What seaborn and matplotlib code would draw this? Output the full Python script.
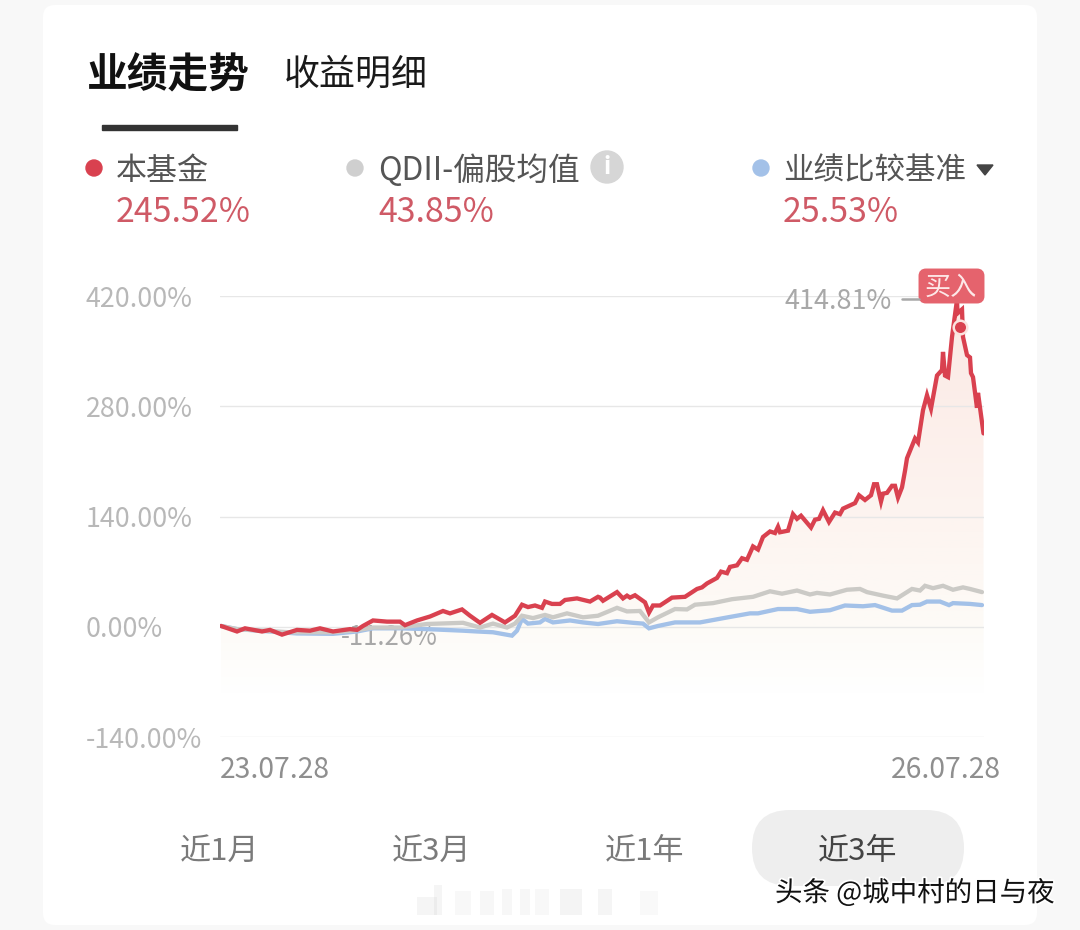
from __future__ import annotations

import matplotlib.pyplot as plt
import numpy as np
import pandas as pd
import seaborn as sns
from matplotlib.colors import LinearSegmentedColormap
from matplotlib.patches import Circle, FancyBboxPatch, Polygon, Rectangle
from matplotlib.patheffects import withStroke
from matplotlib.transforms import ScaledTranslation

# x is a trading-session counter over the three years shown
FUND_DAY = [1, 17, 25, 42, 50, 62, 77, 90, 100, 113, 130, 137, 143, 153, 167, 180, 185, 197, 210, 223, 230, 242,
            250, 260, 272, 285, 295, 302, 308, 315, 322, 325, 332, 340, 345, 357, 370, 378, 380, 383, 397, 403, 407,
            410, 415, 425, 429, 433, 440, 452, 465, 477, 482, 487, 497, 501, 507, 510, 517, 522, 527, 533, 538, 543,
            550, 555, 558, 560, 568, 573, 577, 581, 591, 595, 599, 603, 609, 615, 620, 623, 635, 639, 645, 651, 654,
            657, 661, 663, 667, 672, 675, 678, 682, 685, 687, 695, 698, 703, 707, 711, 717, 722, 723, 725, 728, 732,
            737, 737.5, 742, 743, 747, 750, 751, 753, 757, 758, 763.5]
FUND = [1, -6, -2, -6, -4, -10, -4, -5, -2, -6, -3, -4, 1, 8, 6.5, 6.5, 2, 8, 13, 20, 17, 22,
        14, 5, 15, 5.5, 14, 28, 25, 27, 24, 32, 29, 29, 34, 36, 32, 38, 37, 33, 44, 36, 39.5,
        37, 40, 31, 18, 27, 27, 37, 38, 48, 50, 55, 62, 70, 68, 76, 78, 87, 85, 102, 98, 114,
        121, 119, 127, 120, 122, 143, 137, 141, 126, 136, 137, 148, 133, 145, 143, 150, 157, 167, 161, 167, 181,
        181, 159, 169, 170, 179, 179, 164, 177, 198, 214, 239, 234, 275, 294, 277, 319, 326, 349, 319, 317, 368,
        415, 398, 403, 368, 345, 342, 322, 317, 278, 297, 245.5]

PEER_DAY = [1, 17, 70, 113, 133, 153, 180, 207, 243, 260, 273, 287, 295, 302, 313, 325, 333, 347, 363, 378, 397, 407,
            420, 429, 438, 455, 467, 475, 493, 512, 533, 550, 562, 577, 590, 597, 610, 627, 640, 647, 663, 677, 692,
            700, 705, 713, 723, 733, 743, 750, 762]
PEER = [1, -3, -7, -7, -5, -1, -1, 3.5, 5, -1, 4, -1, 4, 14, 11, 15, 12, 17, 12, 14, 24, 19.5,
        20, 5.5, 12, 22.5, 22, 28, 30, 35, 38, 45, 42, 46, 41, 43, 41, 47, 48, 44, 39.5, 36, 48,
        46, 52, 49, 52, 47, 50, 48, 44]

BENCH_DAY = [1, 17, 77, 113, 137, 153, 180, 207, 243, 257, 273, 292, 297, 302, 308, 320, 325, 333, 350, 363, 378, 397,
             413, 423, 429, 438, 455, 480, 508, 530, 538, 558, 577, 590, 610, 625, 643, 655, 672, 682, 692, 700, 707,
             720, 729, 733, 750, 762]
BENCH = [1, -3, -8.5, -9, -6, -2, -2, -3, -5, -6, -7, -11.3, -5, 10, 4, 5.5, 10, 5.5, 8, 5.5, 3.5, 7,
         5, 4, -2, 1, 5.5, 5.5, 12, 17, 17, 22.5, 22.5, 19, 21, 27, 26, 27.5, 20.5, 20.5, 27.5, 28, 32,
         32, 27.5, 30, 29, 27.5]

Y_TICKS = [-140, 0, 140, 280, 420]
Y_LABELS = ["-140.00%", "0.00%", "140.00%", "280.00%", "420.00%"]
X_LABELS = ["23.07.28", "26.07.28"]
SERIES_NAMES = ["本基金", "QDII-偏股均值", "业绩比较基准"]
SERIES_RETURNS = ["245.52%", "43.85%", "25.53%"]
RANGE_TABS = ["近1月", "近3月", "近1年", "近3年"]
MARKER_DAY = 740
MARKER_VALUE = 381
LOW_DAY = 218
LOW_VALUE = -14

RED = "#d9414f"
GREY = "#cbcac6"
BLUE = "#a3c1e8"
CJK = ["Noto Sans CJK SC", "DejaVu Sans"]


def setup_style() -> None:
    sns.set_theme(style="white")
    plt.rcParams.update({"font.family": CJK, "axes.unicode_minus": False})


def draw_chart(ax: plt.Axes) -> None:
    df = pd.concat(
        [
            pd.DataFrame({"day": BENCH_DAY, "value": BENCH, "series": SERIES_NAMES[2]}),
            pd.DataFrame({"day": PEER_DAY, "value": PEER, "series": SERIES_NAMES[1]}),
            pd.DataFrame({"day": FUND_DAY, "value": FUND, "series": SERIES_NAMES[0]}),
        ]
    )

    # soft area under the fund line, fades out below zero
    cmap = LinearSegmentedColormap.from_list(
        "fade", [(0, "#ffffff"), (0.17, "#fdfbf7"), (0.45, "#fdf4f0"), (1, "#fbe9e4")]
    )
    img = ax.imshow(np.linspace(0, 1, 256).reshape(-1, 1), extent=[0, 764, -85, 415], origin="lower",
                    aspect="auto", cmap=cmap, zorder=0)
    area = Polygon(list(zip(FUND_DAY, FUND)) + [(763.5, -85), (1, -85)], transform=ax.transData,
                   facecolor="none", edgecolor="none")
    ax.add_patch(area)
    img.set_clip_path(area)

    # low label sits under the lines
    ax.text(LOW_DAY, LOW_VALUE, "-11.26%", fontsize=18.6, color="#a8a8a8", ha="right", va="center", zorder=2)

    sns.lineplot(
        data=df, x="day", y="value", hue="series", hue_order=[SERIES_NAMES[2], SERIES_NAMES[1], SERIES_NAMES[0]],
        palette={SERIES_NAMES[0]: RED, SERIES_NAMES[1]: GREY, SERIES_NAMES[2]: BLUE},
        estimator=None, sort=False, linewidth=3.1, legend=False, ax=ax, zorder=3,
    )
    for line in ax.get_lines():
        line.set_solid_joinstyle("miter")

    ax.set_xlim(0, 764)
    ax.set_ylim(-140, 420)
    ax.set_xlabel("")
    ax.set_ylabel("")
    sns.despine(ax=ax, left=True, bottom=True)
    ax.patch.set_alpha(0)
    ax.set_yticks(Y_TICKS, Y_LABELS)
    ax.set_axisbelow(True)
    ax.grid(axis="y", color="#e7e7e7", linewidth=1)
    ax.grid(axis="x", visible=False)
    ax.tick_params(axis="y", length=0, pad=96.5, labelsize=19.3, labelcolor="#b8b8b8")
    for lab in ax.get_yticklabels():
        lab.set_ha("left")

    ax.set_xticks([0, 764], X_LABELS)
    ax.tick_params(axis="x", length=0, pad=13, labelsize=20.4, labelcolor="#8f8f8f")
    left, right = ax.get_xticklabels()
    left.set_ha("left")
    right.set_ha("right")
    right.set_transform(right.get_transform() + ScaledTranslation(17 / 100, 0, ax.figure.dpi_scale_trans))

    ax.scatter([MARKER_DAY], [MARKER_VALUE], s=95, color=RED, edgecolor="#fbe3df", linewidth=1.8, zorder=5)


def draw_page(ui: plt.Axes) -> None:
    ui.set_xlim(0, 1080)
    ui.set_ylim(930, 0)
    ui.axis("off")

    ui.text(87, 76, "业绩走势", fontsize=29.3, fontweight="bold", color="#111111", va="center")
    ui.text(284, 75, "收益明细", fontsize=25.9, fontweight="medium", color="#1a1a1a", va="center")
    ui.add_patch(Rectangle((102, 125), 135, 5, color="#333333"))

    dots = [(94, RED), (355, "#cfcfcf"), (761, BLUE)]
    starts = [116, 378, 783]
    name_sizes = [22.3, 22.8, 22.0]
    for (cx, col), x0, name, ret, size in zip(dots, starts, SERIES_NAMES, SERIES_RETURNS, name_sizes):
        ui.add_patch(Circle((cx, 168), 8, color=col))
        ui.text(x0, 171, name, fontsize=size, color="#555555", va="center")
        ui.text(x0, 212, ret, fontsize=24.4, color="#cf5a66", va="center")

    ui.add_patch(Circle((607, 167), 16, color="#d6d6d6"))
    ui.text(607, 167, "i", fontsize=17, fontweight="bold", color="white", ha="center", va="center")
    ui.add_patch(Polygon([(977, 165), (993, 165), (985, 175)], color="#444444"))

    # peak label and the buy badge
    ui.text(892, 301, "414.81%", fontsize=19.4, color="#a8a8a8", ha="right", va="center")
    ui.plot([902, 919], [299, 299], color="#a8a8a8", linewidth=1.8)
    ui.add_patch(FancyBboxPatch((922, 272), 59, 28, boxstyle="round,pad=0,rounding_size=4",
                                mutation_aspect=1, facecolor="#e5636d", edgecolor="#e5636d", linewidth=5))
    ui.text(951, 287, "买入", fontsize=18.8, color="#fde8e8", ha="center", va="center")

    # range selector
    ui.add_patch(FancyBboxPatch((752, 810), 212, 76, boxstyle="round,pad=0,rounding_size=38",
                                facecolor="#eeeeee", edgecolor="none"))
    for cx, tab in zip([220, 432, 645, 858], RANGE_TABS):
        col = "#444444" if tab == RANGE_TABS[-1] else "#7a7a7a"
        ui.text(cx, 851, tab, fontsize=22.4, color=col, ha="center", va="center")

    # smudged-out watermark at the bottom
    for x0, w, h, a in [(417, 20, 18, 0.07), (434, 8, 30, 0.07), (455, 16, 24, 0.05), (480, 14, 24, 0.06),
                        (502, 10, 26, 0.06), (520, 10, 26, 0.06), (535, 14, 26, 0.05), (560, 22, 26, 0.08),
                        (598, 14, 26, 0.07), (640, 18, 24, 0.04)]:
        ui.add_patch(Rectangle((x0, 915 - h), w, h, color="#777777", alpha=a, linewidth=0))

    ui.text(775, 893, "头条 @城中村的日与夜", fontsize=19.8, color="#111111", va="center",
            path_effects=[withStroke(linewidth=2.5, foreground="white")], zorder=8)


def main() -> None:
    setup_style()
    fig = plt.figure(figsize=(10.8, 9.3), dpi=100, facecolor="#f8f8f8")
    card = fig.add_axes([0, 0, 1, 1], zorder=0)
    card.set_xlim(0, 1080)
    card.set_ylim(930, 0)
    card.axis("off")
    card.add_patch(FancyBboxPatch((43, 5), 994, 920, boxstyle="round,pad=0,rounding_size=12",
                                  facecolor="white", edgecolor="none"))

    ax = fig.add_axes([220 / 1080, (930 - 737) / 930, 764 / 1080, 441 / 930], zorder=1)
    draw_chart(ax)

    ui = fig.add_axes([0, 0, 1, 1], zorder=2)
    ui.patch.set_alpha(0)
    draw_page(ui)

    fig.savefig("out.png", dpi=100, facecolor=fig.get_facecolor())
    plt.close(fig)


if __name__ == "__main__":
    main()
